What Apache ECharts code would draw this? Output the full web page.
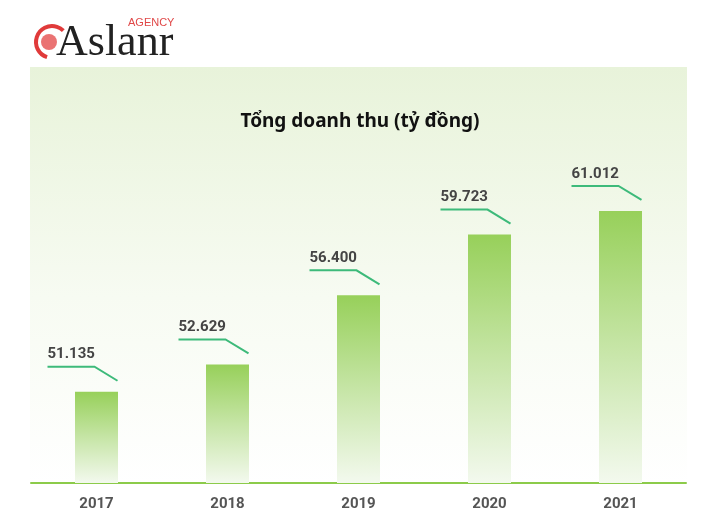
<!DOCTYPE html>
<html><head><meta charset="utf-8">
<script src="https://cdn.jsdelivr.net/npm/echarts@6/dist/echarts.min.js"></script>
<style>html,body{margin:0;padding:0;background:#fff}#c{width:720px;height:525px}</style>
</head><body><div id="c"></div>
<script>
const years = ['2017', '2018', '2019', '2020', '2021'];
const revenue = [51.135, 52.629, 56.400, 59.723, 61.012];
const revenueLabels = ['51.135', '52.629', '56.400', '59.723', '61.012'];
const chartTitle = 'Tổng doanh thu (tỷ đồng)';

const chart = echarts.init(document.getElementById('c'));
chart.setOption({
  animation: false,
  backgroundColor: '#ffffff',
  graphic: [
    { type: 'rect', z: -10, shape: { x: 30, y: 67, width: 657, height: 418 },
      style: { fill: new echarts.graphic.LinearGradient(0, 0, 0, 1, [
        { offset: 0, color: '#e8f3da' }, { offset: 0.55, color: '#f7fbf2' }, { offset: 1, color: '#ffffff' }]) } },
    { type: 'arc', z: 5, shape: { cx: 52, cy: 42, r: 16, startAngle: Math.PI * 0.6, endAngle: Math.PI * 1.75 },
      style: { stroke: '#e03a3a', lineWidth: 4, fill: null } },
    { type: 'circle', z: 5, shape: { cx: 49, cy: 42, r: 8 }, style: { fill: '#e55050', opacity: 0.8 } },
    { type: 'text', z: 6, left: 56, top: 21,
      style: { text: 'Aslanr', font: '44px "Liberation Serif", serif', fill: '#222' } },
    { type: 'text', z: 7, left: 128, top: 17,
      style: { text: 'AGENCY', font: '11px "Liberation Sans", Arial, sans-serif', fill: '#e04848' } }
  ],
  title: {
    text: chartTitle, left: 'center', top: 107,
    textStyle: { fontFamily: '"Noto Sans", sans-serif', fontSize: 19, fontWeight: 'bold', color: '#111' }
  },
  grid: { left: 31, right: 34, top: 83, bottom: 42 },
  xAxis: {
    type: 'category', data: years,
    axisLine: { lineStyle: { color: '#8ccb4a', width: 2 } },
    axisTick: { show: false },
    axisLabel: { margin: 14, fontFamily: 'Roboto, sans-serif', fontSize: 15, fontWeight: 'bold', color: '#555' }
  },
  yAxis: { type: 'value', min: 46.15, max: 68, show: false, splitLine: { show: false } },
  series: [
    {
      type: 'bar', data: revenue, barWidth: 43,
      itemStyle: { color: new echarts.graphic.LinearGradient(0, 0, 0, 1, [
        { offset: 0, color: '#97d05a' }, { offset: 0.5, color: '#c6e5a6' }, { offset: 1, color: '#f3f9ee' }]) }
    },
    {
      type: 'custom', z: 10,
      data: revenue.map((v, i) => [i, v]),
      renderItem: function (params, api) {
        const p = api.coord([api.value(0), api.value(1)]);
        const x = p[0], y = p[1];
        return {
          type: 'group',
          children: [
            { type: 'polyline', shape: { points: [[x - 49, y - 25], [x - 2, y - 25], [x + 21, y - 11]] },
              style: { stroke: '#3dba7a', lineWidth: 2, fill: null } },
            { type: 'text', style: { x: x - 49, y: y - 37, text: revenueLabels[params.dataIndex],
              textAlign: 'left', textVerticalAlign: 'middle',
              font: 'bold 15px Roboto, sans-serif', fill: '#444' } }
          ]
        };
      }
    }
  ]
});
</script></body></html>
